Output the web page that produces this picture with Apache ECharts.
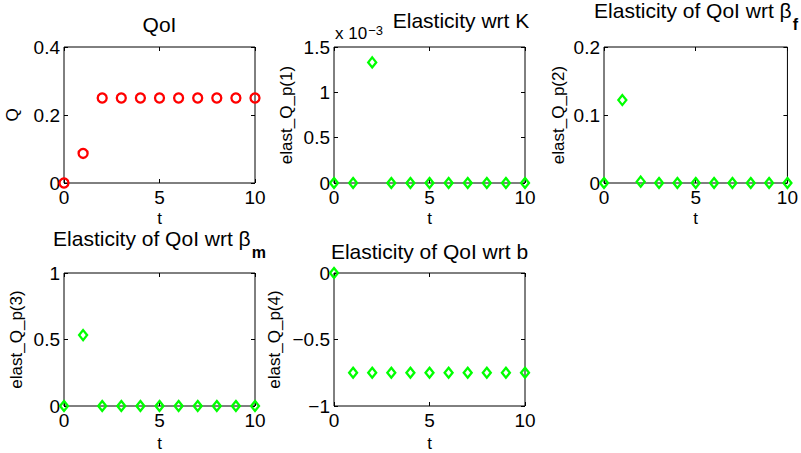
<!DOCTYPE html>
<html>
<head>
<meta charset="utf-8">
<script src="https://cdn.jsdelivr.net/npm/echarts@6/dist/echarts.min.js"></script>
<style>
html,body{margin:0;padding:0;background:#fff;}
#chart{width:801px;height:453px;}
</style>
</head>
<body>
<div id="chart"></div>
<script>
// ---- data ----
const t = [0, 1, 2, 3, 4, 5, 6, 7, 8, 9, 10];
const Q = [0, 0.087, 0.25, 0.25, 0.25, 0.25, 0.25, 0.25, 0.25, 0.25, 0.25];
const elastK = [0, 0, 0.00133, 0, 0, 0, 0, 0, 0, 0, 0];
const elastBf = [0, 0.122, 0.002, 0, 0, 0, 0, 0, 0, 0, 0];
const elastBm = [0, 0.533, 0, 0, 0, 0, 0, 0, 0, 0, 0];
const elastB = [0, -0.75, -0.75, -0.75, -0.75, -0.75, -0.75, -0.75, -0.75, -0.75, -0.75];
const yNames = ['Q', 'elast_Q_p(1)', 'elast_Q_p(2)', 'elast_Q_p(3)', 'elast_Q_p(4)'];
const xName = 't';
const yRanges = [[0, 0.4, 0.2], [0, 0.0015, 0.0005], [0, 0.2, 0.1], [0, 1, 0.5], [-1, 0, 0.5]];
const xRange = [0, 10, 5];

const FONT = 'Liberation Sans, Arial, Helvetica, sans-serif';
const chart = echarts.init(document.getElementById('chart'), null, {renderer: 'svg'});

const grids = [
  {left: 64, top: 47, width: 191, height: 136},
  {left: 334, top: 47, width: 191, height: 136},
  {left: 604, top: 47, width: 191, height: 136},
  {left: 64, top: 273, width: 191, height: 137},
  {left: 334, top: 273, width: 191, height: 137}
];
const yGaps = [43, 39, 37, 39, 51];
const xGaps = [27, 27, 27, 29, 29];
const seriesData = [Q, elastK, elastBf, elastBm, elastB];

function fmtY(i) {
  return function (v) {
    let s;
    if (i === 1) s = String(+(v * 1000).toFixed(2));
    else s = String(+v.toFixed(3));
    return s.replace('-', '\u2212');
  };
}

const xAxes = [], yAxes = [], series = [];
grids.forEach((g, i) => {
  g.show = true; g.borderColor = '#000'; g.borderWidth = 1; g.backgroundColor = '#fff';
  g.containLabel = false;
  const tick = {show: true, inside: true, length: 4, lineStyle: {color: '#000', width: 1}};
  xAxes.push({
    gridIndex: i, type: 'value', min: xRange[0], max: xRange[1], interval: xRange[2],
    position: 'bottom',
    axisLine: {show: false, onZero: false}, axisTick: tick, splitLine: {show: false},
    axisLabel: {color: '#000', fontFamily: FONT, fontSize: 19, margin: 5, showMinLabel: true, showMaxLabel: true},
    name: xName, nameLocation: 'middle', nameGap: xGaps[i],
    nameTextStyle: {color: '#000', fontFamily: FONT, fontSize: 17}
  });
  xAxes.push({
    gridIndex: i, type: 'value', min: xRange[0], max: xRange[1], interval: xRange[2],
    position: 'top',
    axisLine: {show: false, onZero: false}, axisTick: tick, splitLine: {show: false},
    axisLabel: {show: false}
  });
  const yr = yRanges[i];
  yAxes.push({
    gridIndex: i, type: 'value', min: yr[0], max: yr[1], interval: yr[2],
    position: 'left',
    axisLine: {show: false, onZero: false}, axisTick: tick, splitLine: {show: false},
    axisLabel: {color: '#000', fontFamily: FONT, fontSize: 19, margin: 4, formatter: fmtY(i)},
    name: yNames[i], nameLocation: 'middle', nameGap: yGaps[i],
    nameTextStyle: {color: '#000', fontFamily: FONT, fontSize: 17}
  });
  yAxes.push({
    gridIndex: i, type: 'value', min: yr[0], max: yr[1], interval: yr[2],
    position: 'right',
    axisLine: {show: false, onZero: false}, axisTick: tick, splitLine: {show: false},
    axisLabel: {show: false}
  });
  const isQ = i === 0;
  series.push({
    type: 'scatter', xAxisIndex: 2 * i, yAxisIndex: 2 * i, clip: false,
    symbol: isQ ? 'circle' : 'diamond',
    symbolSize: isQ ? 9 : [8, 10],
    itemStyle: {color: 'none', borderColor: isQ ? '#ff0000' : '#00ff00', borderWidth: 2.3, opacity: 1},
    emphasis: {disabled: true},
    data: t.map((x, j) => [x, seriesData[i][j]])
  });
});

const titleFont = {fontFamily: FONT, fontSize: 21, fill: '#000'};
function title(x, y, text, rich) {
  return {
    type: 'text', x: x, y: y, silent: true,
    style: Object.assign({text: text, align: 'center', verticalAlign: 'middle', rich: rich || {}}, titleFont)
  };
}
const subRich = {
  a: {fontFamily: FONT, fontSize: 21, lineHeight: 22, verticalAlign: 'top'},
  s: {fontFamily: FONT, fontSize: 16, fontWeight: 'bold', lineHeight: 32, verticalAlign: 'bottom', padding: [0, 0, 0, 1]}
};
const graphics = [
  title(159.5, 24.5, 'QoI'),
  title(461, 20, 'Elasticity wrt K'),
  title(696, 16, '{a|Elasticity of QoI wrt \u03b2}{s|f}', subRich),
  title(159.5, 244, '{a|Elasticity of QoI wrt \u03b2}{s|m}', subRich),
  title(429.5, 251.5, 'Elasticity of QoI wrt b'),
  {
    type: 'text', x: 335, y: 33, silent: true,
    style: {
      text: '{a|x 10}{b|\u22123}', align: 'left', verticalAlign: 'middle',
      rich: {
        a: {fontFamily: FONT, fontSize: 17, lineHeight: 18, verticalAlign: 'bottom'},
        b: {fontFamily: FONT, fontSize: 13, lineHeight: 13, verticalAlign: 'top', padding: [0, 0, 8, 1]}
      }
    }
  }
];

chart.setOption({
  animation: false,
  backgroundColor: '#fff',
  grid: grids,
  xAxis: xAxes,
  yAxis: yAxes,
  series: series,
  graphic: graphics
});
</script>
</body>
</html>
